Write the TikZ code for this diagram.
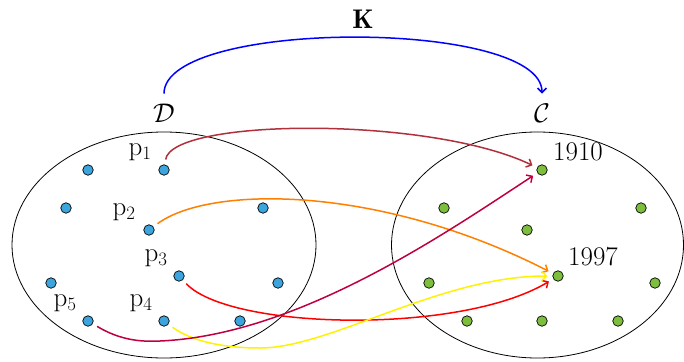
\documentclass[tikz,border=0pt]{standalone}
\usepackage{fix-cm}
\usepackage{fontspec}
\usetikzlibrary{arrows.meta}
\definecolor{dotblue}{RGB}{60,165,222}
\definecolor{dotgreen}{RGB}{125,190,60}
\definecolor{arrbrown}{RGB}{176,48,60}
\begin{document}
\begin{tikzpicture}[x=1pt,y=-1pt,
  bdot/.style={circle,draw=black,line width=0.7pt,fill=dotblue,minimum size=10.5pt,inner sep=0pt},
  gdot/.style={circle,draw=black,line width=0.7pt,fill=dotgreen,minimum size=10.5pt,inner sep=0pt},
  lbl/.style={inner sep=0pt,font=\fontsize{27}{31}\selectfont},
  conn/.style={line width=1.5pt,-{Straight Barb[length=4.5pt,width=9pt]},shorten >=5pt,shorten <=5pt},
  setline/.style={line width=0.8pt}]
\useasboundingbox (0,0) rectangle (684,361);
% sets
\draw[setline] (164,245) ellipse [x radius=152pt, y radius=113pt];
\draw[setline] (537.5,245) ellipse [x radius=146pt, y radius=113pt];
% left dots
\node[bdot] (d1) at (164,170) {};
\node[bdot] (a1) at (88,170) {};
\node[bdot] (a2) at (66,208) {};
\node[bdot] (d2) at (149,230) {};
\node[bdot] (a3) at (263,208) {};
\node[bdot] (d3) at (179,276) {};
\node[bdot] (a4) at (51,283) {};
\node[bdot] (a5) at (278,283) {};
\node[bdot] (d5) at (88,321) {};
\node[bdot] (d4) at (164,321) {};
\node[bdot] (a6) at (240,321) {};
% right dots
\node[gdot] (g1) at (542,170) {};
\node[gdot] (b1) at (444,208) {};
\node[gdot] (b2) at (641,208) {};
\node[gdot] (b3) at (527,230) {};
\node[gdot] (g2) at (558,276) {};
\node[gdot] (b4) at (429,283) {};
\node[gdot] (b5) at (655,283) {};
\node[gdot] (b6) at (467,321) {};
\node[gdot] (b7) at (542,321) {};
\node[gdot] (b8) at (618,321) {};
% labels
\node[lbl] (l1) at (140,152) {$\mathrm{p}_1$};
\node[lbl] (l2) at (124,212) {$\mathrm{p}_2$};
\node[lbl] (l3) at (156,258) {$\mathrm{p}_3$};
\node[lbl] (l5) at (65,303) {$\mathrm{p}_5$};
\node[lbl] (l4) at (141,303) {$\mathrm{p}_4$};
\node[lbl] (t1) at (578,152) {1910};
\node[lbl] (t2) at (593,257) {1997};
\node[lbl] (sd) at (164,113) {$\mathcal{D}$};
\node[lbl] (sc) at (542,113) {$\mathcal{C}$};
\node[lbl] (k) at (363,19) {$\mathbf{K}$};
% K arrow
\draw[line width=1.5pt,blue,-{Straight Barb[length=4.5pt,width=9pt]},shorten <=10pt,shorten >=10pt]
  (sd.north) .. controls +(0,-85) and +(0,-85) .. (sc.north);
% mapping arrows
\draw[conn,arrbrown] (d1) .. controls (172,118) and (430,116) .. (g1);
\draw[conn,orange] (d2) .. controls (210,185) and (380,185) .. (g2);
\draw[conn,red] (d3) .. controls (230,330) and (460,335) .. (g2);
\draw[conn,yellow] (d4) .. controls (190,340) and (220,348) .. (260,348)
  .. controls (330,348) and (440,276) .. (g2);
\draw[conn,purple] (d5) .. controls (120,340) and (140,342) .. (160,341)
  .. controls (300,335) and (450,230) .. (g1);
\end{tikzpicture}
\end{document}
